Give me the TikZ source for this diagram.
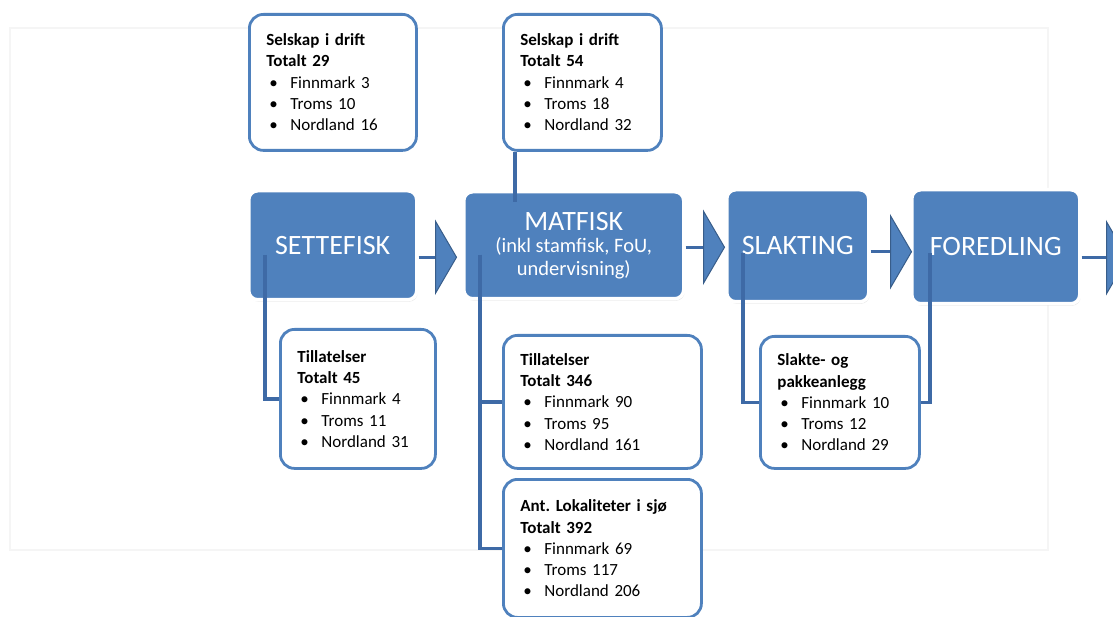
\documentclass[tikz,border=0pt]{standalone}
\usepackage{fontspec}
\setmainfont{Carlito}
\usepackage{xcolor}
\usetikzlibrary{positioning}
\usetikzlibrary{shadows}
\definecolor{steelblue}{RGB}{79,129,189}
\definecolor{darksteel}{RGB}{56,93,138}
\definecolor{linkblue}{RGB}{62,106,166}
\tikzset{%
  stagebox/.style={rectangle,rounded corners=9pt,fill=steelblue,draw=white,line width=3.5pt,text=white,anchor=north west,align=center,inner sep=0pt,font=\fontsize{28}{30}\selectfont,drop shadow={opacity=0.22,shadow xshift=1pt,shadow yshift=-2pt}}
}
\tikzset{%
  infobox/.style={rectangle,rounded corners=14pt,fill=white,draw=steelblue,line width=2.8pt,anchor=north west,align=left,inner xsep=17pt,inner ysep=0pt,font=\frenchspacing\fontsize{17}{21.3}\selectfont}
}
\tikzset{%
  link/.style={draw=linkblue,line width=3.2pt},
  chev/.pic={\filldraw[fill=steelblue,draw=darksteel,line width=1pt] (0,-36) -- (21,0) -- (0,36) -- cycle;}
}
\newcommand{\fylke}[1]{\hspace*{3pt}\makebox[21pt][l]{\textbullet}#1}

\begin{document}
\begin{tikzpicture}[x=1pt,y=-1pt]
            \useasboundingbox (0,0) rectangle (1113,617);
            \draw[black!4,line width=1.5pt] (10,28) rectangle (1048,550);

            % value chain
            \node[stagebox,minimum width=168pt,minimum height=109pt](sette) at (247,189){SETTEFISK};
            \node[stagebox,minimum width=220pt,minimum height=107pt,font=\fontsize{20.5}{22.5}\selectfont](mat) at (462,190){{\fontsize{28}{30}\selectfont MATFISK}\\(inkl stamfisk, FoU,\\undervisning)};
            \node[stagebox,minimum width=142pt,minimum height=112pt](slak) at (725,188){SLAKTING};
            \node[stagebox,minimum width=168pt,minimum height=114pt](fored) at (910,188){FOREDLING};

            \draw[link] (sette.east) ++(0,12) -- ++(17,0) pic{chev};
            \draw[link] (mat.east) ++(0,2) -- ++(18,0) pic{chev};
            \draw[link] (slak.east) ++(0,6) -- ++(20,0) pic{chev};
            \draw[link] (fored.east) ++(0,11) -- ++(25,0) pic{chev};

            % info boxes
            \node[infobox,text width=133pt,minimum height=136pt](driftset) at (248,13){\textbf{Selskap i drift}\\\textbf{Totalt 29}\\\fylke{Finnmark 3}\\\fylke{Troms 10}\\\fylke{Nordland 16}};
            \node[infobox,text width=124pt,minimum height=136pt](driftmat) at (502,13){\textbf{Selskap i drift}\\\textbf{Totalt 54}\\\fylke{Finnmark 4}\\\fylke{Troms 18}\\\fylke{Nordland 32}};
            \node[infobox,text width=121pt,minimum height=139pt](tillset) at (279,328){\textbf{Tillatelser}\\\textbf{Totalt 45}\\\fylke{Finnmark 4}\\\fylke{Troms 11}\\\fylke{Nordland 31}};
            \node[infobox,text width=164pt,minimum height=133pt](tillmat) at (502,334){\textbf{Tillatelser}\\\textbf{Totalt 346}\\\fylke{Finnmark 90}\\\fylke{Troms 95}\\\fylke{Nordland 161}};
            \node[infobox,text width=164pt,minimum height=138pt](lok) at (502,478){\textbf{Ant. Lokaliteter i sjø}\\\textbf{Totalt 392}\\\fylke{Finnmark 69}\\\fylke{Troms 117}\\\fylke{Nordland 206}};
            \node[infobox,text width=125pt,minimum height=132pt](anlegg) at (759,335){\textbf{Slakte- og}\\\textbf{pakkeanlegg}\\\fylke{Finnmark 10}\\\fylke{Troms 12}\\\fylke{Nordland 29}};

            % connectors
            \coordinate (settein) at (265,255);
            \coordinate (matin) at (480,255);
            \coordinate (mattop) at (515,202);
            \coordinate (slakin) at (743,253);
            \coordinate (foredin) at (930,253);
            \draw[link] (settein) |- (tillset.west);
            \draw[link] (matin) |- (tillmat.west);
            \draw[link] (matin) |- (lok.west);
            \draw[link] (driftmat.south -| mattop) -- (mattop);
            \draw[link] (slakin) |- (anlegg.west);
            \draw[link] (foredin) |- (anlegg.east);
        \end{tikzpicture}
\end{document}
